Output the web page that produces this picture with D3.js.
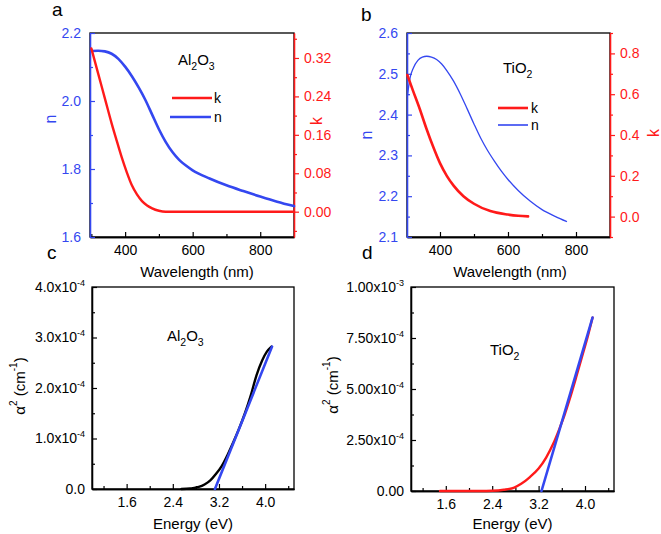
<!DOCTYPE html>
<html><head><meta charset="utf-8">
<script src="https://cdnjs.cloudflare.com/ajax/libs/d3/7.8.5/d3.min.js"></script>
<style>body{margin:0;background:#fff}text{font-family:Arial,"Liberation Sans",sans-serif}</style>
</head><body>
<script>
// ---------- DATA ----------
// Panel a: Al2O3 optical constants
const aN = [[300,2.147],[320,2.148],[340,2.146],[360,2.139],[380,2.124],[400,2.101],[420,2.073],[440,2.040],[460,2.003],[480,1.960],[500,1.917],[520,1.880],[540,1.850],[560,1.827],[580,1.810],[600,1.796],[650,1.772],[700,1.752],[750,1.735],[800,1.719],[850,1.704],[900,1.691]];
const aK = [[300,0.340],[320,0.288],[340,0.236],[360,0.184],[375,0.148],[390,0.113],[405,0.082],[420,0.055],[435,0.036],[450,0.022],[465,0.013],[480,0.007],[500,0.002],[520,0],[900,0]];
// Panel b: TiO2 optical constants
const bN = [[304,2.445],[312,2.490],[322,2.515],[335,2.533],[348,2.541],[361,2.543],[375,2.541],[390,2.535],[405,2.524],[420,2.508],[440,2.482],[460,2.450],[480,2.414],[500,2.377],[520,2.342],[540,2.312],[560,2.286],[580,2.262],[600,2.241],[630,2.214],[665,2.188],[700,2.167],[740,2.150],[772,2.138]];
const bK = [[304,0.694],[320,0.620],[340,0.530],[360,0.432],[380,0.342],[400,0.262],[420,0.200],[440,0.152],[469,0.100],[500,0.063],[548,0.027],[600,0.010],[630,0.004],[659,0.001]];
// Panel c: Al2O3 Tauc plot (alpha^2, units 1e-4 cm^-1)
const cCurve = [[2.55,0],[2.70,0.01],[2.85,0.04],[2.95,0.09],[3.05,0.17],[3.15,0.30],[3.25,0.46],[3.35,0.68],[3.45,0.93],[3.55,1.20],[3.65,1.50],[3.75,1.85],[3.85,2.25],[3.95,2.55],[4.03,2.72],[4.11,2.82]];
const cFit = [[3.13,0],[4.12,2.82]];
// Panel d: TiO2 Tauc plot (alpha^2, units 1e-4 cm^-1)
const dCurve = [[1.50,0],[2.20,0],[2.40,0.01],[2.60,0.06],[2.78,0.17],[2.90,0.35],[3.04,0.66],[3.20,1.10],[3.33,1.64],[3.45,2.30],[3.56,3.06],[3.65,3.75],[3.73,4.45],[3.85,5.60],[3.95,6.60],[4.05,7.60],[4.13,8.50]];
const dFit = [[3.25,0],[4.13,8.50]];
// Tick labels
const wlTicks = [400,600,800];
const aNTicks = [1.6,1.8,2.0,2.2];
const aNLabels = ["1.6","1.8","2.0","2.2"];
const aKTicks = [0,0.08,0.16,0.24,0.32];
const aKLabels = ["0.00","0.08","0.16","0.24","0.32"];
const bNTicks = [2.1,2.2,2.3,2.4,2.5,2.6];
const bKTicks = [0,0.2,0.4,0.6,0.8];
const eTicks = [1.6,2.4,3.2,4.0];
const cYTicks = [0,1,2,3,4];
const cYLabels = [["0.0",""],["1.0x10","-4"],["2.0x10","-4"],["3.0x10","-4"],["4.0x10","-4"]];
const dYTicks = [0,2.5,5,7.5,10];
const dYLabels = [["0.00",""],["2.50x10","-4"],["5.00x10","-4"],["7.50x10","-4"],["1.00x10","-3"]];

const BLUE="#3447f0", RED="#ff1a1a", BLACK="#000";
const svg=d3.select("body").append("svg").attr("width",661).attr("height",534);

function styleAxis(g,color,fs){
  g.selectAll("path").attr("stroke",color).attr("stroke-width",1.3);
  g.selectAll("line").attr("stroke",color).attr("stroke-width",1.2);
  g.selectAll("text").attr("fill",color).attr("font-size",fs||14).attr("font-family","Arial, 'Liberation Sans', sans-serif");
}
function supLabels(g,labels){
  g.selectAll(".tick text").each(function(d,i){
    const t=d3.select(this); t.text(null);
    t.append("tspan").attr("font-size",14).text(labels[i][0]);
    if(labels[i][1]) t.append("tspan").attr("dy",-6).attr("font-size",9).text(labels[i][1]);
  });
}
function frame(x0,y0,x1,y1){
  svg.append("rect").attr("x",x0).attr("y",y0).attr("width",x1-x0).attr("height",y1-y0)
    .attr("fill","none").attr("stroke",BLACK).attr("stroke-width",1.3);
}
function chem(x,y,parts,fs){
  const t=svg.append("text").attr("x",x).attr("y",y).attr("font-size",fs).attr("fill",BLACK);
  let low=false;
  parts.forEach(p=>{
    const s=t.append("tspan").text(p.t);
    if(p.sub){ s.attr("font-size",fs*0.7); if(!low){s.attr("dy",5); low=true;} }
    else { s.attr("font-size",fs); if(low){s.attr("dy",-5); low=false;} }
  });
}
function letter(x,y,s){ svg.append("text").attr("x",x).attr("y",y).attr("font-size",19).attr("fill",BLACK).text(s); }
function rotLabel(x,y,s,color,fs){
  svg.append("text").attr("transform",`translate(${x},${y}) rotate(-90)`).attr("text-anchor","middle")
    .attr("font-size",fs).attr("fill",color).text(s);
}
function drawLine(data,x,y,color,w){
  svg.append("path").datum(data).attr("fill","none").attr("stroke",color).attr("stroke-width",w)
    .attr("stroke-linejoin","round").attr("stroke-linecap","round")
    .attr("d",d3.line().curve(d3.curveMonotoneX).x(d=>x(d[0])).y(d=>y(d[1])));
}

// ---------- Panel a ----------
(function(){
  const L=90,R=294,T=33,B=237;
  const x=d3.scaleLinear().domain([296,900]).range([L,R]);
  const yn=d3.scaleLinear().domain([1.6,2.2]).range([B,T]);
  const yk=d3.scaleLinear().domain([-0.0527,0.372]).range([B,T]);
  frame(L,T,R,B);
  let g=svg.append("g").attr("transform",`translate(0,${B})`).call(d3.axisBottom(x).tickValues(wlTicks).tickSizeInner(-5).tickSizeOuter(0).tickPadding(8).tickFormat(d3.format("d")));
  styleAxis(g,BLACK,14);
  g=svg.append("g").attr("transform",`translate(0,${B})`).call(d3.axisBottom(x).tickValues([300,500,700]).tickSizeInner(-3).tickSizeOuter(0).tickFormat(""));
  styleAxis(g,BLACK);
  g=svg.append("g").attr("transform",`translate(${L},0)`).call(d3.axisLeft(yn).tickValues(aNTicks).tickSizeInner(-5).tickSizeOuter(0).tickPadding(9).tickFormat((d,i)=>aNLabels[i]));
  styleAxis(g,BLUE,14);
  g=svg.append("g").attr("transform",`translate(${L},0)`).call(d3.axisLeft(yn).tickValues([1.7,1.9,2.1]).tickSizeInner(-3).tickSizeOuter(0).tickFormat(""));
  styleAxis(g,BLUE);
  g=svg.append("g").attr("transform",`translate(${R},0)`).call(d3.axisRight(yk).tickValues(aKTicks).tickSizeInner(5).tickSizeOuter(0).tickPadding(5).tickFormat((d,i)=>aKLabels[i]));
  styleAxis(g,RED,14);
  g=svg.append("g").attr("transform",`translate(${R},0)`).call(d3.axisRight(yk).tickValues([-0.04,0.04,0.12,0.20,0.28,0.36]).tickSizeInner(3).tickSizeOuter(0).tickFormat(""));
  styleAxis(g,RED);
  drawLine(aN,x,yn,BLUE,2.6);
  drawLine(aK,x,yk,RED,2.4);
  chem(178,65,[{t:"Al"},{t:"2",sub:1},{t:"O"},{t:"3",sub:1}],15);
  svg.append("line").attr("x1",172).attr("x2",212).attr("y1",98).attr("y2",98).attr("stroke",RED).attr("stroke-width",2.4);
  svg.append("line").attr("x1",170).attr("x2",211).attr("y1",117).attr("y2",117).attr("stroke",BLUE).attr("stroke-width",2.6);
  svg.append("text").attr("x",214).attr("y",103).attr("font-size",14).text("k");
  svg.append("text").attr("x",214).attr("y",122).attr("font-size",14).text("n");
  rotLabel(56,119,"n",BLUE,16);
  rotLabel(322,121,"k",RED,16);
  svg.append("text").attr("x",197).attr("y",277).attr("text-anchor","middle").attr("font-size",15).text("Wavelength (nm)");
  letter(52,16,"a");
})();

// ---------- Panel b ----------
(function(){
  const L=407,R=610,T=33,B=237;
  const x=d3.scaleLinear().domain([303,900]).range([L,R]);
  const yn=d3.scaleLinear().domain([2.1,2.6]).range([B,T]);
  const yk=d3.scaleLinear().domain([-0.1,0.9]).range([B,T]);
  frame(L,T,R,B);
  let g=svg.append("g").attr("transform",`translate(0,${B})`).call(d3.axisBottom(x).tickValues(wlTicks).tickSizeInner(-5).tickSizeOuter(0).tickPadding(8).tickFormat(d3.format("d")));
  styleAxis(g,BLACK,14);
  g=svg.append("g").attr("transform",`translate(0,${B})`).call(d3.axisBottom(x).tickValues([500,700]).tickSizeInner(-3).tickSizeOuter(0).tickFormat(""));
  styleAxis(g,BLACK);
  g=svg.append("g").attr("transform",`translate(${L},0)`).call(d3.axisLeft(yn).tickValues(bNTicks).tickSizeInner(-5).tickSizeOuter(0).tickPadding(9).tickFormat(d3.format(".1f")));
  styleAxis(g,BLUE,14);
  g=svg.append("g").attr("transform",`translate(${L},0)`).call(d3.axisLeft(yn).tickValues([2.15,2.25,2.35,2.45,2.55]).tickSizeInner(-3).tickSizeOuter(0).tickFormat(""));
  styleAxis(g,BLUE);
  g=svg.append("g").attr("transform",`translate(${R},0)`).call(d3.axisRight(yk).tickValues(bKTicks).tickSizeInner(5).tickSizeOuter(0).tickPadding(5).tickFormat(d3.format(".1f")));
  styleAxis(g,RED,14);
  g=svg.append("g").attr("transform",`translate(${R},0)`).call(d3.axisRight(yk).tickValues([-0.1,0.1,0.3,0.5,0.7,0.9]).tickSizeInner(3).tickSizeOuter(0).tickFormat(""));
  styleAxis(g,RED);
  drawLine(bN,x,yn,BLUE,1.3);
  drawLine(bK,x,yk,RED,2.6);
  chem(503,73,[{t:"TiO"},{t:"2",sub:1}],15);
  svg.append("line").attr("x1",498).attr("x2",528).attr("y1",108).attr("y2",108).attr("stroke",RED).attr("stroke-width",2.6);
  svg.append("line").attr("x1",498).attr("x2",528).attr("y1",125).attr("y2",125).attr("stroke",BLUE).attr("stroke-width",1.6);
  svg.append("text").attr("x",531).attr("y",113).attr("font-size",14).text("k");
  svg.append("text").attr("x",531).attr("y",130).attr("font-size",14).text("n");
  rotLabel(372,135,"n",BLUE,16);
  rotLabel(659,133,"k",RED,16);
  svg.append("text").attr("x",510).attr("y",277).attr("text-anchor","middle").attr("font-size",15).text("Wavelength (nm)");
  letter(361,21,"b");
})();

// ---------- Tauc panels ----------
function tauc(L,R,T,B,ymax,yTicks,yLabels,yMinor,curve,curveColor,fit,title,titleX,titleY,ylabX,ylabY,letX,let_){
  const x=d3.scaleLinear().domain([1.0,4.5]).range([L,R]);
  const y=d3.scaleLinear().domain([0,ymax]).range([B,T]);
  frame(L,T,R,B);
  let g=svg.append("g").attr("transform",`translate(0,${B})`).call(d3.axisBottom(x).tickValues(eTicks).tickSizeInner(-5).tickSizeOuter(0).tickPadding(8).tickFormat(d3.format(".1f")));
  styleAxis(g,BLACK,14);
  g=svg.append("g").attr("transform",`translate(0,${B})`).call(d3.axisBottom(x).tickValues([1.2,2.0,2.8,3.6,4.4]).tickSizeInner(-3).tickSizeOuter(0).tickFormat(""));
  styleAxis(g,BLACK);
  g=svg.append("g").attr("transform",`translate(${L},0)`).call(d3.axisLeft(y).tickValues(yTicks).tickSizeInner(-5).tickSizeOuter(0).tickPadding(7));
  styleAxis(g,BLACK,14);
  supLabels(g,yLabels);
  g=svg.append("g").attr("transform",`translate(${L},0)`).call(d3.axisLeft(y).tickValues(yMinor).tickSizeInner(-3).tickSizeOuter(0).tickFormat(""));
  styleAxis(g,BLACK);
  drawLine(curve,x,y,curveColor,2.4);
  drawLine(fit,x,y,BLUE,2.6);
  chem(titleX,titleY,title,15);
  const t=svg.append("text").attr("transform",`translate(${ylabX},${ylabY}) rotate(-90)`).attr("text-anchor","middle").attr("font-size",15);
  t.append("tspan").attr("font-size",15).text("\u03b1");
  t.append("tspan").attr("dy",-8).attr("font-size",10).text("2");
  t.append("tspan").attr("dy",8).attr("font-size",15).text("  (cm");
  t.append("tspan").attr("dy",-8).attr("font-size",10).text("-1");
  t.append("tspan").attr("dy",8).attr("font-size",15).text(")");
  svg.append("text").attr("x",(L+R)/2).attr("y",529).attr("text-anchor","middle").attr("font-size",15).text("Energy (eV)");
  letter(letX,259,let_);
}
tauc(92,294,287,489,4,cYTicks,cYLabels,[0.5,1.5,2.5,3.5],cCurve,BLACK,cFit,
  [{t:"Al"},{t:"2",sub:1},{t:"O"},{t:"3",sub:1}],167,341,25,386,47,"c");
tauc(411,614,287,491,10,dYTicks,dYLabels,[1.25,3.75,6.25,8.75],dCurve,RED,dFit,
  [{t:"TiO"},{t:"2",sub:1}],490,355,338,385,362,"d");
</script>
</body></html>
